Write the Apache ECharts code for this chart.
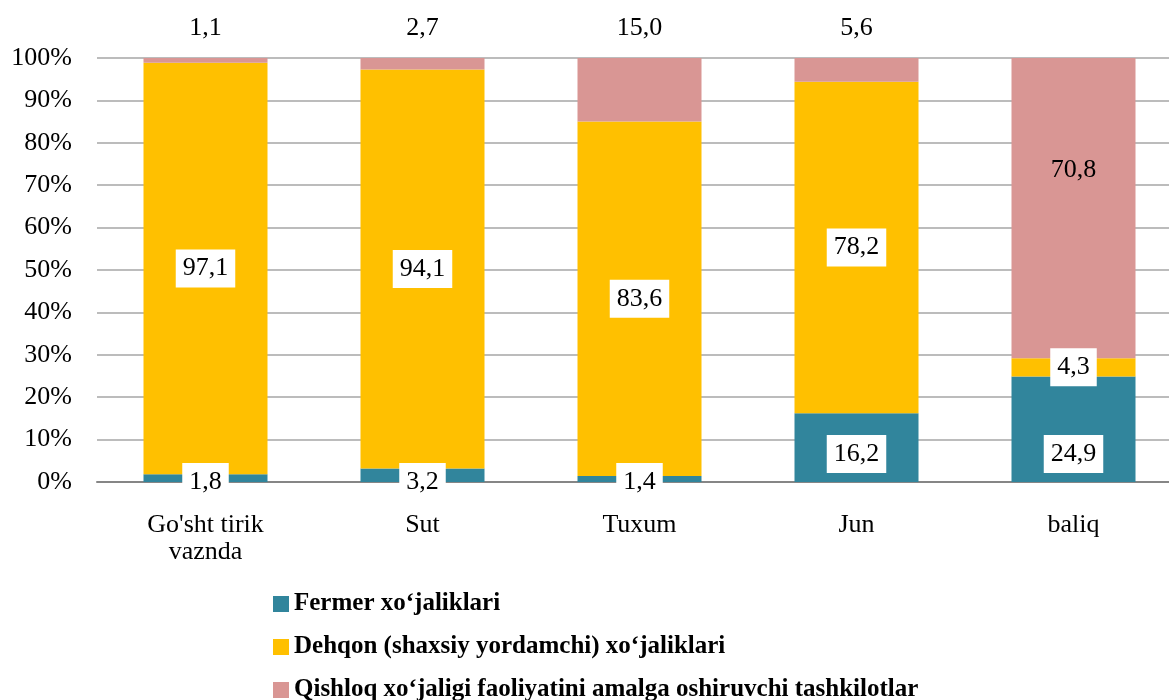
<!DOCTYPE html>
<html>
<head>
<meta charset="utf-8">
<script src="https://cdn.jsdelivr.net/npm/echarts@6/dist/echarts.min.js"></script>
<style>
  html, body { margin: 0; padding: 0; background: #fff; overflow: hidden; }
  /* chart is a bit wider than the window: the plot runs past the right edge */
  #chart { width: 1182px; height: 700px; }
</style>
</head>
<body>
<div id="chart"></div>
<script>
  // categories and shares (%)
  const categories = ["Go'sht tirik\nvaznda", 'Sut', 'Tuxum', 'Jun', 'baliq'];
  const seriesNames = [
    'Fermer xoʻjaliklari',
    'Dehqon (shaxsiy yordamchi) xoʻjaliklari',
    'Qishloq xoʻjaligi faoliyatini amalga oshiruvchi tashkilotlar'
  ];
  const fermer = [1.8, 3.2, 1.4, 16.2, 24.9];
  const dehqon = [97.1, 94.1, 83.6, 78.2, 4.3];
  const tashkilot = [1.1, 2.7, 15.0, 5.6, 70.8];
  const yTicks = [0, 10, 20, 30, 40, 50, 60, 70, 80, 90, 100];

  const font = 'Liberation Serif';
  const fmt = (v) => v.toFixed(1).replace('.', ',');

  const boxLabel = {
    show: true,
    color: '#000',
    fontFamily: font,
    fontSize: 26,
    lineHeight: 26,
    backgroundColor: '#fff',
    padding: [6, 7, 6, 7],
    formatter: (p) => fmt(p.value)
  };

  const chart = echarts.init(document.getElementById('chart'));

  // one legend per series so they stack in a single column
  const legends = seriesNames.map((name, i) => ({
    orient: 'vertical',
    left: 268,
    top: 586 + i * 43,
    itemWidth: 16,
    itemHeight: 16,
    icon: 'rect',
    data: [name],
    textStyle: {
      fontFamily: font,
      fontSize: 25,
      fontWeight: 'bold',
      color: '#000',
      lineHeight: 26
    }
  }));

  const option = {
    animation: false,
    color: ['#31859C', '#FFC000', '#D99694'],
    grid: { left: 97, right: 0, top: 58, bottom: 218 },
    legend: legends,
    xAxis: {
      type: 'category',
      data: categories,
      axisTick: { show: false },
      axisLine: { lineStyle: { color: '#868686', width: 2 } },
      axisLabel: {
        fontFamily: font,
        fontSize: 26,
        lineHeight: 27,
        color: '#000',
        margin: 30
      }
    },
    yAxis: {
      type: 'value',
      min: yTicks[0],
      max: yTicks[yTicks.length - 1],
      interval: 10,
      axisLine: { show: false },
      axisTick: { show: false },
      splitLine: { lineStyle: { color: '#A6A6A6', width: 1.5 } },
      axisLabel: {
        fontFamily: font,
        fontSize: 26,
        color: '#000',
        margin: 25,
        formatter: '{value}%'
      }
    },
    series: [
      {
        name: seriesNames[0],
        type: 'bar',
        stack: 'total',
        barWidth: 124,
        data: fermer.map((v) => ({
          value: v,
          label: { position: 'insideBottom', distance: 9, offset: [0, v < 5 ? 28 : 0] }
        })),
        label: boxLabel
      },
      {
        name: seriesNames[1],
        type: 'bar',
        stack: 'total',
        barWidth: 124,
        data: dehqon,
        label: Object.assign({}, boxLabel, { position: 'inside' })
      },
      {
        name: seriesNames[2],
        type: 'bar',
        stack: 'total',
        barWidth: 124,
        data: tashkilot.map((v) => ({
          value: v,
          label: v < 20
            ? { position: 'top', distance: 17 }
            : { position: 'insideTop', distance: 99 }
        })),
        label: {
          show: true,
          color: '#000',
          fontFamily: font,
          fontSize: 26,
          lineHeight: 26,
          formatter: (p) => fmt(p.value)
        }
      }
    ]
  };

  chart.setOption(option);
</script>
</body>
</html>
